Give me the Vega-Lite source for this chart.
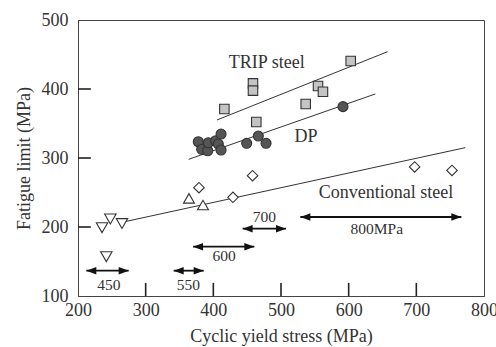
{
  "$schema": "https://vega.github.io/schema/vega-lite/v6.json",
  "width": 406,
  "height": 276,
  "autosize": {"type": "none"},
  "padding": {"left": 78, "top": 20, "right": 12, "bottom": 51},
  "config": {
    "view": {"stroke": "#444", "strokeWidth": 1},
    "axis": {
      "labelFont": "Liberation Serif",
      "titleFont": "Liberation Serif",
      "labelFontSize": 18,
      "titleFontSize": 18,
      "titleFontWeight": "normal",
      "labelColor": "#333",
      "titleColor": "#333",
      "domainColor": "#444",
      "grid": false,
      "ticks": false,
      "labelFlush": false
    },
    "text": {"font": "Liberation Serif", "fill": "#333"}
  },
  "datasets": {
    "pts": [
      {"x": 416.3, "y": 371.0, "type": "TRIP"},
      {"x": 458.6, "y": 408.2, "type": "TRIP"},
      {"x": 458.6, "y": 397.6, "type": "TRIP"},
      {"x": 463.5, "y": 352.2, "type": "TRIP"},
      {"x": 536.5, "y": 378.3, "type": "TRIP"},
      {"x": 554.7, "y": 404.4, "type": "TRIP"},
      {"x": 562.0, "y": 396.1, "type": "TRIP"},
      {"x": 603.0, "y": 440.6, "type": "TRIP"},
      {"x": 377.8, "y": 323.6, "type": "DP"},
      {"x": 382.8, "y": 312.6, "type": "DP"},
      {"x": 391.7, "y": 310.5, "type": "DP"},
      {"x": 392.6, "y": 322.1, "type": "DP"},
      {"x": 403.5, "y": 325.0, "type": "DP"},
      {"x": 407.4, "y": 320.2, "type": "DP"},
      {"x": 411.4, "y": 334.7, "type": "DP"},
      {"x": 411.4, "y": 311.6, "type": "DP"},
      {"x": 449.3, "y": 321.3, "type": "DP"},
      {"x": 466.5, "y": 331.8, "type": "DP"},
      {"x": 477.9, "y": 321.3, "type": "DP"},
      {"x": 591.6, "y": 374.4, "type": "DP"},
      {"x": 378.8, "y": 257.0, "type": "Conv"},
      {"x": 429.0, "y": 243.0, "type": "Conv"},
      {"x": 458.0, "y": 274.4, "type": "Conv"},
      {"x": 697.5, "y": 287.0, "type": "Conv"},
      {"x": 752.7, "y": 282.0, "type": "Conv"},
      {"x": 364.0, "y": 241.5, "type": "Up"},
      {"x": 384.7, "y": 231.9, "type": "Up"},
      {"x": 235.5, "y": 199.0, "type": "Down"},
      {"x": 247.8, "y": 211.6, "type": "Down"},
      {"x": 265.0, "y": 205.0, "type": "Down"},
      {"x": 241.9, "y": 157.0, "type": "Down"}
    ],
    "fits": [
      {"line": "TRIP", "x": 405.4, "y": 355.1},
      {"line": "TRIP", "x": 657.6, "y": 454.1},
      {"line": "DP", "x": 363.5, "y": 298.1},
      {"line": "DP", "x": 639.4, "y": 392.8},
      {"line": "Conv", "x": 262.6, "y": 206.3},
      {"line": "Conv", "x": 772.4, "y": 315.0}
    ],
    "xticks": [
      {"tx": 300, "ty": 100, "ty2": 119},
      {"tx": 400, "ty": 100, "ty2": 119},
      {"tx": 500, "ty": 100, "ty2": 119},
      {"tx": 600, "ty": 100, "ty2": 119},
      {"tx": 700, "ty": 100, "ty2": 119}
    ],
    "yticks": [
      {"ty": 200, "tx": 200, "tx2": 219},
      {"ty": 300, "tx": 200, "tx2": 219},
      {"ty": 400, "tx": 200, "tx2": 219}
    ],
    "arrows": [
      {"x1": 212.3, "x2": 274.9, "y": 136.7},
      {"x1": 341.4, "x2": 385.7, "y": 136.7},
      {"x1": 370.0, "x2": 460.6, "y": 171.5},
      {"x1": 443.3, "x2": 507.4, "y": 197.6},
      {"x1": 528.6, "x2": 766.5, "y": 214.5}
    ],
    "small": [
      {"x": 245.8, "y": 115.9, "label": "450"},
      {"x": 363.0, "y": 116.0, "label": "550"},
      {"x": 415.8, "y": 158.0, "label": "600"},
      {"x": 475.4, "y": 214.0, "label": "700"},
      {"x": 641.5, "y": 197.5, "label": "800MPa"}
    ],
    "big": [
      {"x": 478.9, "y": 437.2, "label": "TRIP steel"},
      {"x": 537.0, "y": 330.0, "label": "DP"},
      {"x": 655.2, "y": 248.8, "label": "Conventional steel"}
    ]
  },
  "layer": [
    {
      "data": {"name": "fits"},
      "mark": {"type": "line", "color": "#333", "strokeWidth": 1},
      "encoding": {
        "x": {"field": "x", "type": "quantitative", "scale": {"domain": [200, 800], "nice": false}, "axis": {"title": "Cyclic yield stress (MPa)", "values": [200, 300, 400, 500, 600, 700, 800], "labelPadding": 5, "titlePadding": 8}},
        "y": {"field": "y", "type": "quantitative", "scale": {"domain": [100, 500], "nice": false}, "axis": {"title": "Fatigue limit (MPa)", "values": [100, 200, 300, 400, 500], "labelPadding": 10, "titlePadding": 8}},
        "detail": {"field": "line"}
      }
    },
    {
      "data": {"name": "xticks"},
      "mark": {"type": "rule", "color": "#222", "strokeWidth": 1.6},
      "encoding": {
        "x": {"field": "tx", "type": "quantitative"},
        "y": {"field": "ty", "type": "quantitative"},
        "y2": {"field": "ty2"}
      }
    },
    {
      "data": {"name": "yticks"},
      "mark": {"type": "rule", "color": "#222", "strokeWidth": 1.6},
      "encoding": {
        "y": {"field": "ty", "type": "quantitative"},
        "x": {"field": "tx", "type": "quantitative"},
        "x2": {"field": "tx2"}
      }
    },
    {
      "data": {"name": "arrows"},
      "mark": {"type": "rule", "color": "#111", "strokeWidth": 1.8},
      "encoding": {
        "x": {"field": "x1", "type": "quantitative"},
        "x2": {"field": "x2"},
        "y": {"field": "y", "type": "quantitative"}
      }
    },
    {
      "data": {"name": "arrows"},
      "mark": {"type": "point", "shape": "M0,0L2,-0.75L2,0.75Z", "filled": true, "color": "#111", "size": 100, "opacity": 1},
      "encoding": {
        "x": {"field": "x1", "type": "quantitative"},
        "y": {"field": "y", "type": "quantitative"}
      }
    },
    {
      "data": {"name": "arrows"},
      "mark": {"type": "point", "shape": "M0,0L-2,-0.75L-2,0.75Z", "filled": true, "color": "#111", "size": 100, "opacity": 1},
      "encoding": {
        "x": {"field": "x2", "type": "quantitative"},
        "y": {"field": "y", "type": "quantitative"}
      }
    },
    {
      "data": {"name": "pts"},
      "mark": {"type": "point", "filled": true, "opacity": 1, "stroke": "#333", "strokeWidth": 1.1},
      "encoding": {
        "x": {"field": "x", "type": "quantitative"},
        "y": {"field": "y", "type": "quantitative"},
        "shape": {"field": "type", "type": "nominal", "scale": {"domain": ["TRIP", "DP", "Conv", "Up", "Down"], "range": ["square", "circle", "diamond", "triangle-up", "triangle-down"]}, "legend": null},
        "fill": {"field": "type", "type": "nominal", "scale": {"domain": ["TRIP", "DP", "Conv", "Up", "Down"], "range": ["#c4c4c4", "#555555", "#ffffff", "#ffffff", "#ffffff"]}, "legend": null},
        "size": {"field": "type", "type": "nominal", "scale": {"domain": ["TRIP", "DP", "Conv", "Up", "Down"], "range": [90, 130, 144, 150, 140]}, "legend": null}
      }
    },
    {
      "data": {"name": "small"},
      "mark": {"type": "text", "fontSize": 15.5, "align": "center", "baseline": "middle"},
      "encoding": {
        "x": {"field": "x", "type": "quantitative"},
        "y": {"field": "y", "type": "quantitative"},
        "text": {"field": "label"}
      }
    },
    {
      "data": {"name": "big"},
      "mark": {"type": "text", "fontSize": 18, "align": "center", "baseline": "middle"},
      "encoding": {
        "x": {"field": "x", "type": "quantitative"},
        "y": {"field": "y", "type": "quantitative"},
        "text": {"field": "label"}
      }
    }
  ]
}
